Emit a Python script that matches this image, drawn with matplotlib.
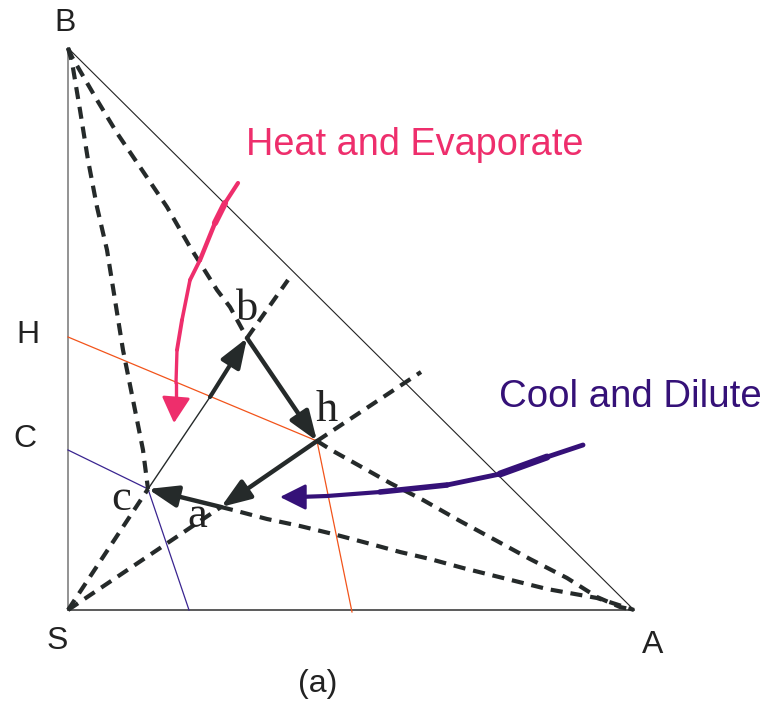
import numpy as np
import matplotlib.pyplot as plt
from matplotlib.collections import LineCollection

# triangle corners and named points, in picture pixels (y grows downward)
vertex_names = ['B', 'S', 'A']
vertex_xy = [(68, 48), (68, 610), (634, 610)]
point_names = ['b', 'h', 'c', 'a']
point_xy = [(247, 338), (317, 441), (148, 489), (221, 507)]
point_label_xy = [(247, 309), (327, 410), (121, 499), (197, 516)]

edge_label_names = ['B', 'H', 'C', 'S', 'A']
edge_label_xy = [(65, 23), (28, 335), (25, 439), (57, 641), (653, 645)]
edge_H = (68, 337)
edge_C = (68, 450)
orange_foot = (352, 612)
purple_foot = (189, 610)
cb_bend = (210, 397)   # where the c -> b line turns thick

# dashed curves
curve_B_c = [(68, 48), (72, 62), (80, 110), (88, 160), (97, 207), (107, 250),
             (115, 300), (123, 350), (133, 400), (143, 450), (148, 489)]
curve_B_b = [(68, 48), (72, 57), (97, 100), (117, 133), (140, 167), (167, 207),
             (190, 247), (217, 290), (230, 307), (247, 338)]
curve_h_A = [(317, 441), (333, 451), (367, 470), (390, 483), (423, 500), (460, 521),
             (497, 541), (530, 559), (567, 578), (597, 597), (620, 607), (634, 610)]
curve_a_A = [(221, 507), (233, 510), (267, 519), (300, 526), (333, 534), (367, 543),
             (400, 552), (430, 559), (463, 568), (507, 579), (547, 589), (597, 598), (634, 610)]
ext_b = (288, 280)
ext_h = (421, 372)

# freehand arrows
pink_path = [(238, 183), (225, 203), (215, 223), (200, 260), (190, 280), (182, 320),
             (177, 350), (176, 383), (176, 402)]
pink_width = [3.0, 4.5, 3.2, 2.8, 2.6, 2.8, 2.4, 2.4]
purple_path = [(583, 445), (547, 457), (500, 474), (447, 485), (380, 492), (327, 496), (298, 497)]
purple_width = [3.5, 5.0, 3.5, 4.0, 3.0, 3.0]

dark = '#252a2a'
pink = '#ee2e6c'
purple = '#351178'
orange = '#f2541b'

fig = plt.figure(figsize=(7.65, 7.08), dpi=100)
ax = fig.add_axes([0, 0, 1, 1])
ax.set_xlim(0, 765)
ax.set_ylim(708, 0)
ax.axis('off')

B, S, A = vertex_xy
b, h, c, a = point_xy

# triangle
ax.plot([S[0], B[0]], [S[1], B[1]], color='#808080', lw=1.2)
ax.plot([S[0], A[0]], [S[1], A[1]], color='#404040', lw=1.2)
ax.plot([B[0], A[0]], [B[1], A[1]], color='#222222', lw=0.8)

# thin construction lines
ax.plot([edge_H[0], h[0], orange_foot[0]], [edge_H[1], h[1], orange_foot[1]], color=orange, lw=0.9)
ax.plot([edge_C[0], c[0], purple_foot[0]], [edge_C[1], c[1], purple_foot[1]], color='#3a2590', lw=0.9)

dash = dict(color=dark, lw=3.0, ls=(0, (2.9, 1.9)), solid_capstyle='butt')
for curve in [curve_B_c, curve_B_b, curve_h_A, curve_a_A]:
    xs, ys = zip(*curve)
    ax.plot(xs, ys, **dash)
ax.plot([S[0], c[0]], [S[1], c[1]], **dash)
ax.plot([b[0], ext_b[0]], [b[1], ext_b[1]], **dash)
ax.plot([S[0], a[0]], [S[1], a[1]], **dash)
ax.plot([h[0], ext_h[0]], [h[1], ext_h[1]], **dash)

# cycle arrows
def arrow(p0, p1, lw, color=dark):
    ax.annotate('', xy=p1, xytext=p0,
                arrowprops=dict(arrowstyle='-|>,head_length=0.9,head_width=0.33',
                                mutation_scale=20, lw=lw, color=color,
                                shrinkA=0, shrinkB=0))

ax.plot([c[0], cb_bend[0]], [c[1], cb_bend[1]], color=dark, lw=1.0)
arrow(cb_bend, b, 3.0)
arrow(b, h, 3.2)
arrow(h, a, 3.2)
arrow(a, c, 3.2)

# freehand pink and purple strokes
segs = [[pink_path[i], pink_path[i + 1]] for i in range(len(pink_path) - 1)]
ax.add_collection(LineCollection(segs, linewidths=pink_width, colors=pink, capstyle='round'))
ax.annotate('', xy=(174, 423), xytext=(176, 398),
            arrowprops=dict(arrowstyle='-|>,head_length=1.0,head_width=0.55',
                            mutation_scale=16, lw=2, color=pink, shrinkA=0, shrinkB=0))
segs = [[purple_path[i], purple_path[i + 1]] for i in range(len(purple_path) - 1)]
ax.add_collection(LineCollection(segs, linewidths=purple_width, colors=purple, capstyle='round'))
ax.annotate('', xy=(280, 497), xytext=(302, 497),
            arrowprops=dict(arrowstyle='-|>,head_length=1.0,head_width=0.5',
                            mutation_scale=16, lw=2, color=purple, shrinkA=0, shrinkB=0))

# labels
for name, (x, y) in zip(edge_label_names, edge_label_xy):
    ax.text(x, y, name, fontsize=23, family='Liberation Sans', color='#222222',
            ha='center', va='center')
for name, (x, y) in zip(point_names, point_label_xy):
    ax.text(x, y, name, fontsize=32, family='Liberation Serif', color='#222222',
            ha='center', va='center')
ax.text(318, 684, '(a)', fontsize=23, family='Liberation Sans', color='#222222',
        ha='center', va='center')
ax.text(415, 145, 'Heat and Evaporate', fontsize=27.3, family='Liberation Sans',
        color=pink, ha='center', va='center')
ax.text(630, 397, 'Cool and Dilute', fontsize=27.6, family='Liberation Sans',
        color=purple, ha='center', va='center')

fig.savefig('out.png', dpi=100)
